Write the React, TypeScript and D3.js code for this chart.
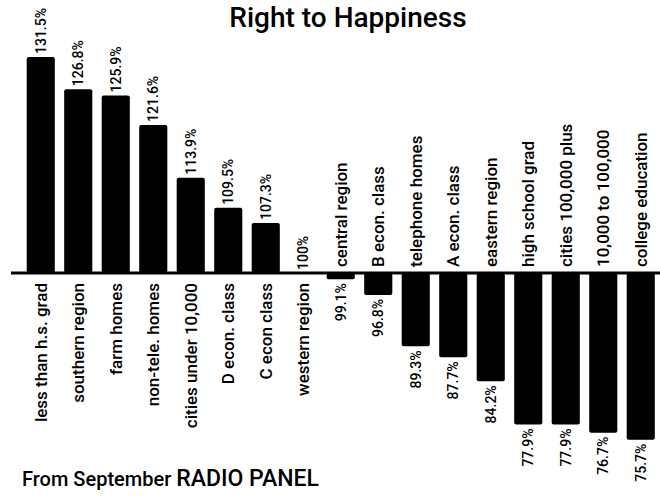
import React from 'react';
import * as d3 from 'd3';

// Listening index by group (100% = average)
const categories = [
  'less than h.s. grad',
  'southern region',
  'farm homes',
  'non-tele. homes',
  'cities under 10,000',
  'D econ. class',
  'C econ class',
  'western region',
  'central region',
  'B econ. class',
  'telephone homes',
  'A econ. class',
  'eastern region',
  'high school grad',
  'cities 100,000 plus',
  '10,000 to 100,000',
  'college education',
];
const values = [131.5, 126.8, 125.9, 121.6, 113.9, 109.5, 107.3, 100, 99.1, 96.8, 89.3, 87.7, 84.2, 77.9, 77.9, 76.7, 75.7];
const valueLabels = ['131.5%', '126.8%', '125.9%', '121.6%', '113.9%', '109.5%', '107.3%', '100%', '99.1%', '96.8%', '89.3%', '87.7%', '84.2%', '77.9%', '77.9%', '76.7%', '75.7%'];

const W = 660;
const H = 500;
const FONT = 'Roboto, "DejaVu Sans", sans-serif';

export default function App() {
  const x = d3.scaleBand<string>()
    .domain(categories)
    .range([22, 659.5])
    .paddingInner(0.25)
    .paddingOuter(0.125);

  const y = d3.scaleLinear().domain([100, 131.5]).range([273, 57]);
  const base = y(100);

  const data = categories.map((c, i) => ({ cat: c, v: values[i], lbl: valueLabels[i] }));

  return (
    <svg width={W} height={H} style={{ position: 'absolute', left: 0, top: 0, background: '#fff' }}>
      <text x={348} y={27} textAnchor="middle" fontFamily={FONT} fontSize={28} fontWeight={500} fill="#000">
        Right to Happiness
      </text>

      {data.map((d, i) => {
        const cx = x(d.cat)! + x.bandwidth() / 2;
        const up = d.v >= 100;
        const top = up ? y(d.v) : base;
        const h = Math.abs(y(d.v) - base);
        return (
          <g key={i}>
            {h > 0 && (
              <rect x={x(d.cat)} y={top} width={x.bandwidth()} height={h} rx={2} fill="#000" />
            )}
            {/* value label */}
            <text
              transform={`translate(${cx + 5},${up ? y(d.v) - 3 : y(d.v) + 4}) rotate(-90)`}
              textAnchor={up ? 'start' : 'end'}
              fontFamily={FONT}
              fontSize={14}
              fontWeight={500}
              fill="#000"
            >
              {d.lbl}
            </text>
            {/* category label */}
            <text
              transform={`translate(${cx + 6},${up ? base + 10 : base - 6}) rotate(-90)`}
              textAnchor={up ? 'end' : 'start'}
              fontFamily={FONT}
              fontSize={17}
              fontWeight={500}
              fill="#000"
            >
              {d.cat}
            </text>
          </g>
        );
      })}

      <line x1={11} x2={W} y1={base} y2={base} stroke="#000" strokeWidth={3} />

      <text x={22} y={486} fontFamily={FONT} fontWeight={500} fill="#000">
        <tspan fontSize={20}>From September </tspan>
        <tspan fontSize={23}>RADIO PANEL</tspan>
      </text>
    </svg>
  );
}
